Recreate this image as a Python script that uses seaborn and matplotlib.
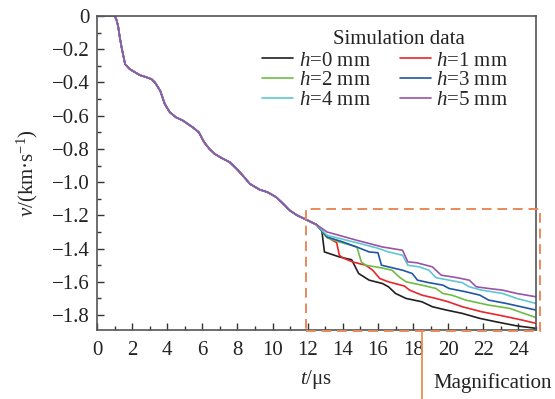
import matplotlib
matplotlib.use("Agg")
import matplotlib.pyplot as plt
import pandas as pd
import seaborn as sns
from matplotlib.patches import Rectangle
from matplotlib.ticker import MultipleLocator

# shared part of all curves (t in us, v in km/s)
t_common = [0, 1.0, 1.1, 1.2, 1.3, 1.42, 1.6, 1.87, 2.44, 2.8, 3.1, 3.3, 3.6, 3.86,
            4.15, 4.5, 4.9, 5.45, 5.8, 6.1, 6.4, 6.7, 7.1, 7.56, 7.95, 8.3, 8.7,
            9.26, 9.7, 10.2, 10.6, 10.97, 11.4, 11.8, 12.5]
v_common = [0, 0, -0.02, -0.06, -0.13, -0.2, -0.29, -0.32, -0.356, -0.368, -0.38,
            -0.40, -0.45, -0.53, -0.58, -0.61, -0.63, -0.67, -0.70, -0.76, -0.80,
            -0.83, -0.855, -0.88, -0.92, -0.96, -1.01, -1.045, -1.06, -1.09, -1.13,
            -1.17, -1.20, -1.22, -1.256]

# tails after the curves split
t_h0 = [12.8, 12.95, 13.8, 14.5, 14.66, 14.9, 15.5, 16.25, 16.6, 17.0, 17.6, 18.5,
        19.1, 19.9, 20.8, 21.8, 22.7, 23.9, 25.0]
v_h0 = [-1.29, -1.42, -1.45, -1.467, -1.50, -1.55, -1.59, -1.61, -1.63, -1.67,
        -1.70, -1.72, -1.75, -1.77, -1.79, -1.82, -1.84, -1.865, -1.88]
t_h1 = [13.1, 13.65, 13.8, 14.0, 14.55, 15.3, 15.7, 16.1, 16.6, 17.5, 17.8, 18.5,
        19.3, 20.0, 20.8, 21.9, 23.1, 24.2, 25.0]
v_h1 = [-1.33, -1.365, -1.44, -1.456, -1.48, -1.50, -1.53, -1.58, -1.60, -1.625,
        -1.65, -1.68, -1.70, -1.72, -1.75, -1.78, -1.805, -1.83, -1.85]
t_h2 = [13.1, 13.8, 14.8, 15.05, 15.3, 16.25, 16.8, 17.2, 17.6, 18.5, 19.3, 19.7,
        20.2, 21.0, 22.3, 23.5, 25.0]
v_h2 = [-1.335, -1.36, -1.39, -1.48, -1.50, -1.517, -1.53, -1.57, -1.60, -1.62,
        -1.64, -1.67, -1.68, -1.71, -1.74, -1.76, -1.815]
t_h3 = [13.1, 14.0, 14.9, 15.5, 16.0, 16.2, 16.6, 17.4, 17.95, 18.25, 18.9, 19.7,
        20.05, 21.0, 21.8, 22.3, 23.3, 25.0]
v_h3 = [-1.33, -1.36, -1.395, -1.42, -1.425, -1.50, -1.51, -1.53, -1.55, -1.59,
        -1.605, -1.62, -1.64, -1.66, -1.68, -1.71, -1.73, -1.77]
t_h4 = [13.1, 14.8, 15.9, 16.6, 17.4, 17.7, 18.35, 18.9, 19.3, 20.05, 20.8, 21.2,
        21.9, 23.1, 23.9, 25.0]
v_h4 = [-1.32, -1.365, -1.395, -1.42, -1.44, -1.50, -1.51, -1.53, -1.575, -1.59,
        -1.605, -1.63, -1.65, -1.67, -1.70, -1.73]
t_h5 = [13.1, 14.8, 16.25, 17.4, 17.7, 18.2, 19.1, 19.6, 20.5, 21.2, 21.6, 22.3,
        23.1, 23.9, 25.0]
v_h5 = [-1.30, -1.35, -1.39, -1.41, -1.48, -1.485, -1.51, -1.56, -1.575, -1.59,
        -1.63, -1.64, -1.65, -1.67, -1.69]

labels = [r"$h$=0 mm", r"$h$=1 mm", r"$h$=2 mm", r"$h$=3 mm", r"$h$=4 mm", r"$h$=5 mm"]
colors = ["#231f20", "#e8262c", "#6dbd45", "#2156a5", "#5ec7d2", "#9b52a9"]
tails = [(t_h0, v_h0), (t_h1, v_h1), (t_h2, v_h2), (t_h3, v_h3), (t_h4, v_h4), (t_h5, v_h5)]

rows = []
for lab, (tt, vv) in zip(labels, tails):
    for t, v in zip(t_common + tt, v_common + vv):
        rows.append({"t": t, "v": v, "case": lab})
df = pd.DataFrame(rows)

sns.set_style("ticks")
plt.rcParams["font.family"] = ["Liberation Serif", "DejaVu Serif"]
plt.rcParams["mathtext.fontset"] = "custom"
plt.rcParams["mathtext.rm"] = "Liberation Serif"
plt.rcParams["mathtext.it"] = "Liberation Serif:italic"
plt.rcParams["axes.unicode_minus"] = True

FS = 15
fig = plt.figure(figsize=(5.55, 3.99), dpi=100)
ax = fig.add_axes([0.1748, 0.1729, 0.791, 0.787])

sns.lineplot(data=df, x="t", y="v", hue="case", hue_order=labels, palette=colors,
             sort=False, estimator=None, linewidth=1.2, ax=ax)

ax.set_xlim(0, 25)
ax.set_ylim(-1.89, 0)
ax.xaxis.set_major_locator(MultipleLocator(2))
ax.xaxis.set_minor_locator(MultipleLocator(1))
ax.yaxis.set_minor_locator(MultipleLocator(0.1))
ax.tick_params(which="both", direction="in", labelsize=FS, colors="#333333",
               labelcolor="#222222")
ax.tick_params(which="major", length=5, width=1, pad=5)
ax.tick_params(axis="x", which="major", pad=8)
ax.tick_params(which="minor", length=3, width=1)
ax.set_yticks([0, -0.2, -0.4, -0.6, -0.8, -1.0, -1.2, -1.4, -1.6, -1.8])
ax.set_yticklabels(["0", "\u22120.2", "\u22120.4", "\u22120.6", "\u22120.8", "\u22121.0",
                    "\u22121.2", "\u22121.4", "\u22121.6", "\u22121.8"])
for s in ax.spines.values():
    s.set_color("#555555")
    s.set_linewidth(1.2)

ax.set_xlabel(r"$t$/μs", fontsize=FS, labelpad=6)
ax.set_ylabel(r"$v$/(km·s$^{-1}$)", fontsize=FS, labelpad=9)

# row-major legend order: h0 h1 / h2 h3 / h4 h5
handles, _ = ax.get_legend_handles_labels()
order = [0, 2, 4, 1, 3, 5]
ax.legend([handles[i] for i in order], [labels[i] for i in order],
          ncol=2, frameon=False, loc="upper left",
          bbox_to_anchor=(0.376, 0.888), borderaxespad=0, borderpad=0,
          fontsize=FS, handlelength=1.5, handletextpad=0.25,
          columnspacing=1.4, labelspacing=0.0)
ax.text(0.687, 0.924, "Simulation data", transform=ax.transAxes, fontsize=FS,
        ha="center", va="center", color="#222222")

ax.add_patch(Rectangle((11.9, -1.895), 13.3, 0.735, fill=False, edgecolor="#e98a5c",
                       linestyle=(0, (5, 3)), linewidth=1.4, clip_on=False, zorder=5))
ax.plot([18.5, 18.5], [-0.3, -0.005], color="#ee8f52", linewidth=1.3,
        transform=ax.get_xaxis_transform(), clip_on=False)
fig.text(0.781, 0.04, "Magnification", fontsize=FS, ha="left", va="center",
         color="#222222")

fig.savefig("out.png", dpi=100)
